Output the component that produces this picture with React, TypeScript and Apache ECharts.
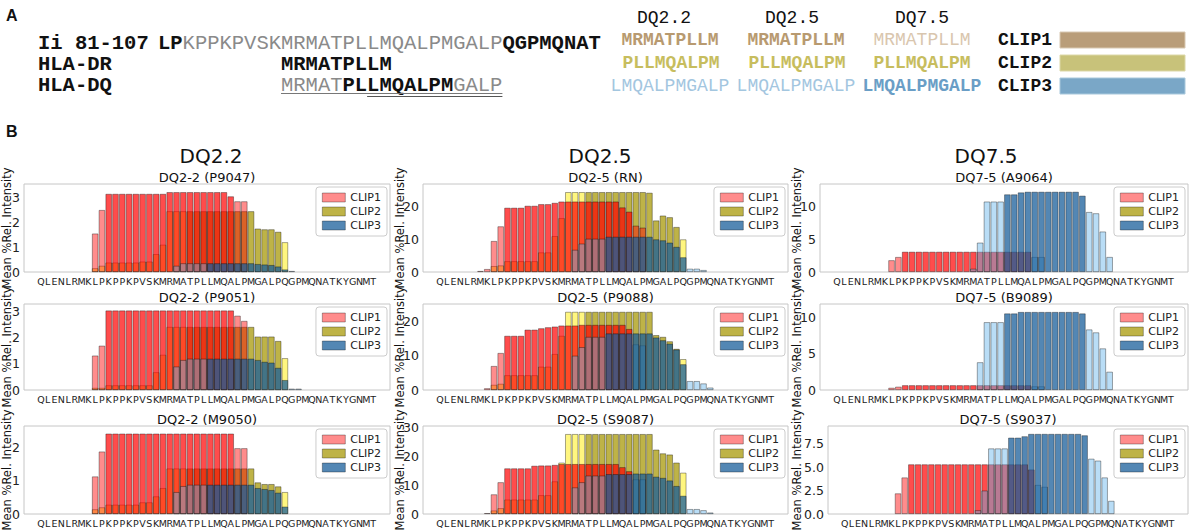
import React, { useEffect, useRef } from "react";
import * as echarts from "echarts";

// ---------- tick labels / categories ----------
const RESIDUES = ["Q","L","E","N","L","R","M","K","L","P","K","P","P","K","P","V","S","K","M","R","M","A","T","P","L","L","M","Q","A","L","P","M","G","A","L","P","Q","G","P","M","Q","N","A","T","K","Y","G","N","M","T"];
const PAD_BEFORE = ["", ""];
const PAD_AFTER = ["", ""];
const CATEGORIES = [...PAD_BEFORE, ...RESIDUES, ...PAD_AFTER];
const OFFSET = PAD_BEFORE.length;

type Seg = [number, number[]]; // [first residue index]

// ---------- DQ2-2 (P9047) ----------
const P9047_CLIP1_FLANK: Seg[] = [[8, [1.55, 2.5]], [29, [2.85, 2.85]]];
const P9047_CLIP1_CORE: Seg[] = [[10, [3.15, 3.15, 3.15, 3.15, 3.15, 3.15, 3.15, 3.15, 3.15, 3.22, 3.22, 3.22, 3.22, 3.22, 3.22, 3.22, 3.22, 3.22, 3.05]]];
const P9047_CLIP2_FLANK: Seg[] = [[8, [0.15, 0.25, 0.38, 0.38, 0.38, 0.38, 0.38, 0.42, 0.42, 0.72, 1.1, 2.45, 2.45, 2.45]], [36, [1.2]]];
const P9047_CLIP2_CORE: Seg[] = [[22, [2.45, 2.45, 2.45, 2.45, 2.45, 2.45, 2.45, 2.45, 2.45, 2.45, 1.75, 1.72, 1.72, 1.62]]];
const P9047_CLIP3_FLANK: Seg[] = [[20, [0.25, 0.35, 0.35, 0.35, 0.35]], [37, [0.04]]];
const P9047_CLIP3_CORE: Seg[] = [[25, [0.35, 0.35, 0.35, 0.35, 0.35, 0.35, 0.35, 0.32, 0.3, 0.28, 0.22, 0.1]]];

// ---------- DQ2-5 (RN) ----------
const RN_CLIP1_FLANK: Seg[] = [[6, [0.3, 0.9, 9.5, 14]], [29, [14.2, 13.6]]];
const RN_CLIP1_CORE: Seg[] = [[10, [19.7, 19.7, 19.7, 20.3, 20.3, 20.8, 20.8, 21.2, 21.6, 21.6, 21.6, 21.6, 21.6, 21.6, 21.6, 21.6, 21.6, 19.8, 18.5]]];
const RN_CLIP2_FLANK: Seg[] = [[8, [1.8, 2.0, 3.3, 3.3, 3.3, 3.3, 3.3, 6.0, 6.0, 11, 16.5, 24.5, 24.5, 24.5]], [36, [10]]];
const RN_CLIP2_CORE: Seg[] = [[22, [24.5, 24.5, 24.5, 24.5, 24.5, 24.5, 24.5, 24.5, 24.5, 24.3, 15.8, 17.3, 16.8, 13.8]]];
const RN_CLIP3_FLANK: Seg[] = [[20, [6.8, 8.7, 10.2, 10.2, 10.2]], [37, [1.0, 1.0, 0.6]]];
const RN_CLIP3_CORE: Seg[] = [[25, [10.8, 10.8, 10.8, 10.8, 10.8, 10.8, 10.8, 10.0, 9.7, 9.0, 7.7, 4.5]]];

// ---------- DQ7-5 (A9064) ----------
const A9064_CLIP1_FLANK: Seg[] = [[8, [1.8, 2.3]]];
const A9064_CLIP1_CORE: Seg[] = [[10, [3.1, 3.1, 3.1, 3.1, 3.1, 3.1, 3.1, 3.1, 3.1, 3.1, 3.1, 3.1, 3.1, 3.1, 3.1, 3.1, 3.1, 3.1, 3.1]]];
const A9064_CLIP2_FLANK: Seg[] = [];
const A9064_CLIP2_CORE: Seg[] = [];
const A9064_CLIP3_FLANK: Seg[] = [[20, [0.5, 4.5, 10.8, 10.8, 10.8]], [29, [2.3, 2.3]], [37, [9.2, 9.0, 6.2, 2.3]]];
const A9064_CLIP3_CORE: Seg[] = [[25, [11.9, 11.9, 12.2, 12.3, 12.3, 12.3, 12.3, 12.3, 12.3, 12.3, 12.3, 11.7]]];

// ---------- DQ2-2 (P9051) ----------
const P9051_CLIP1_FLANK: Seg[] = [[8, [1.32, 1.7]], [29, [2.85, 2.65]]];
const P9051_CLIP1_CORE: Seg[] = [[10, [3.05, 3.05, 3.05, 3.05, 3.05, 3.05, 3.05, 3.05, 3.05, 3.05, 3.05, 3.05, 3.05, 3.05, 3.05, 3.05, 3.05, 3.05, 3.05]]];
const P9051_CLIP2_FLANK: Seg[] = [[8, [0.08, 0.08, 0.18, 0.18, 0.18, 0.18, 0.18, 0.18, 0.18, 0.68, 1.35, 2.42, 2.42, 2.42]], [36, [1.22]]];
const P9051_CLIP2_CORE: Seg[] = [[22, [2.42, 2.42, 2.42, 2.42, 2.42, 2.42, 2.42, 2.42, 2.42, 2.42, 2.05, 2.05, 2.05, 1.88]]];
const P9051_CLIP3_FLANK: Seg[] = [[20, [0.9, 1.15, 1.2, 1.2, 1.2]], [37, [0.05, 0.05]]];
const P9051_CLIP3_CORE: Seg[] = [[25, [1.2, 1.2, 1.2, 1.2, 1.2, 1.2, 1.2, 1.15, 1.08, 1.05, 0.85, 0.38]]];

// ---------- DQ2-5 (P9088) ----------
const P9088_CLIP1_FLANK: Seg[] = [[7, [0.5, 7, 10.8]]];
const P9088_CLIP1_CORE: Seg[] = [[10, [15.8, 15.8, 15.8, 17.6, 17.6, 18.0, 18.3, 18.5, 18.8, 18.8, 18.8, 19, 19, 19, 19, 19, 19, 19, 17.8]]];
const P9088_CLIP2_FLANK: Seg[] = [[8, [1.5, 1.8, 4.3, 4.3, 4.3, 4.3, 4.3, 6.8, 6.8, 10.5, 15.8, 22.8, 22.8, 22.8]], [36, [9]]];
const P9088_CLIP2_CORE: Seg[] = [[22, [22.8, 22.8, 22.8, 22.8, 22.8, 22.8, 22.8, 22.8, 22.8, 22.8, 16.0, 15.5, 14.2, 12.0]]];
const P9088_CLIP3_FLANK: Seg[] = [[20, [10, 12.5, 15.5, 15.5, 15.5]], [29, [13.3, 13.0]], [37, [2.6, 2.6, 1.9, 0.7]]];
const P9088_CLIP3_CORE: Seg[] = [[25, [16.5, 16.5, 16.5, 16.5, 16.5, 16.5, 16.5, 15.3, 14.5, 13.5, 11.8, 7.5]]];

// ---------- DQ7-5 (B9089) ----------
const B9089_CLIP1_FLANK: Seg[] = [[8, [0.3, 0.45]]];
const B9089_CLIP1_CORE: Seg[] = [[10, [0.65, 0.65, 0.65, 0.65, 0.65, 0.65, 0.65, 0.65, 0.65, 0.65, 0.65, 0.65, 0.65, 0.65, 0.65, 0.65, 0.65, 0.65, 0.65]]];
const B9089_CLIP2_FLANK: Seg[] = [];
const B9089_CLIP2_CORE: Seg[] = [];
const B9089_CLIP3_FLANK: Seg[] = [[21, [3.8, 9.3, 9.3, 9.3]], [29, [0.5, 0.5]], [37, [8.3, 7.9, 5.7, 2.5]]];
const B9089_CLIP3_CORE: Seg[] = [[25, [10.5, 10.5, 10.7, 10.7, 10.7, 10.7, 10.7, 10.7, 10.7, 10.7, 10.7, 10.5]]];

// ---------- DQ2-2 (M9050) ----------
const M9050_CLIP1_FLANK: Seg[] = [[8, [1.13, 1.88]], [29, [1.98, 1.98]]];
const M9050_CLIP1_CORE: Seg[] = [[10, [2.42, 2.42, 2.42, 2.42, 2.42, 2.42, 2.42, 2.42, 2.42, 2.42, 2.42, 2.42, 2.42, 2.42, 2.42, 2.42, 2.42, 2.42, 2.42]]];
const M9050_CLIP2_FLANK: Seg[] = [[8, [0.14, 0.2, 0.28, 0.28, 0.28, 0.28, 0.28, 0.35, 0.35, 0.53, 0.78, 1.37, 1.37, 1.37]], [36, [0.66]]];
const M9050_CLIP2_CORE: Seg[] = [[22, [1.37, 1.37, 1.37, 1.37, 1.37, 1.37, 1.37, 1.37, 1.37, 1.37, 0.95, 0.9, 0.9, 0.83]]];
const M9050_CLIP3_FLANK: Seg[] = [[20, [0.66, 0.84, 0.88, 0.88, 0.88]]];
const M9050_CLIP3_CORE: Seg[] = [[25, [0.88, 0.88, 0.88, 0.88, 0.88, 0.88, 0.88, 0.78, 0.75, 0.72, 0.64, 0.22]]];

// ---------- DQ2-5 (S9087) ----------
const S9087_CLIP1_FLANK: Seg[] = [[7, [0.3, 6.8, 11]]];
const S9087_CLIP1_CORE: Seg[] = [[10, [15.8, 15.8, 15.8, 15.8, 16.7, 16.8, 16.8, 17.0, 17.3, 17.3, 17.3, 17.3, 17.3, 17.3, 17.3, 17.3, 17.3, 16.2, 14.8]]];
const S9087_CLIP2_FLANK: Seg[] = [[8, [1.2, 2.0, 5.0, 5.0, 5.0, 5.0, 5.0, 6.5, 6.5, 11.3, 17.8, 27.7, 27.7, 27.7]], [36, [14.3]]];
const S9087_CLIP2_CORE: Seg[] = [[22, [27.7, 27.7, 27.7, 27.7, 27.7, 27.7, 27.7, 27.7, 27.7, 27.7, 22.3, 21.0, 20.6, 17.8]]];
const S9087_CLIP3_FLANK: Seg[] = [[20, [9.2, 11, 13.3, 13.3, 13.3]], [29, [12, 12]], [37, [1.7, 1.7, 1.3, 0.5]]];
const S9087_CLIP3_CORE: Seg[] = [[25, [13.8, 13.8, 13.8, 13.8, 14.0, 14.0, 14.0, 12.9, 12.5, 11.6, 9.7, 6.3]]];

// ---------- DQ7-5 (S9037) ----------
const S9037_CLIP1_FLANK: Seg[] = [[8, [2.2, 3.9]]];
const S9037_CLIP1_CORE: Seg[] = [[10, [5.3, 5.3, 5.3, 5.3, 5.3, 5.3, 5.3, 5.3, 5.3, 5.3, 5.3, 5.3, 5.3, 5.3, 5.3, 5.3, 5.3, 5.3, 4.75]]];
const S9037_CLIP2_FLANK: Seg[] = [];
const S9037_CLIP2_CORE: Seg[] = [];
const S9037_CLIP3_FLANK: Seg[] = [[20, [0.4, 2.5, 7.0, 7.0, 7.0]], [29, [3.1, 2.9]], [37, [5.9, 5.7, 3.9, 1.4]]];
const S9037_CLIP3_CORE: Seg[] = [[25, [8.15, 8.15, 8.3, 8.55, 8.55, 8.55, 8.55, 8.55, 8.55, 8.55, 8.55, 8.4]]];

// ---------- panel descriptions ----------
const PANELS = [
  { title: "DQ2-2 (P9047)", col: 0, row: 0, max: 3.55, step: 1, dec: 0, d: [P9047_CLIP2_FLANK, P9047_CLIP2_CORE, P9047_CLIP1_FLANK, P9047_CLIP1_CORE, P9047_CLIP3_FLANK, P9047_CLIP3_CORE] },
  { title: "DQ2-5 (RN)", col: 1, row: 0, max: 27, step: 10, dec: 0, d: [RN_CLIP2_FLANK, RN_CLIP2_CORE, RN_CLIP1_FLANK, RN_CLIP1_CORE, RN_CLIP3_FLANK, RN_CLIP3_CORE] },
  { title: "DQ7-5 (A9064)", col: 2, row: 0, max: 13.5, step: 5, dec: 0, d: [A9064_CLIP2_FLANK, A9064_CLIP2_CORE, A9064_CLIP1_FLANK, A9064_CLIP1_CORE, A9064_CLIP3_FLANK, A9064_CLIP3_CORE] },
  { title: "DQ2-2 (P9051)", col: 0, row: 1, max: 3.3, step: 1, dec: 0, d: [P9051_CLIP2_FLANK, P9051_CLIP2_CORE, P9051_CLIP1_FLANK, P9051_CLIP1_CORE, P9051_CLIP3_FLANK, P9051_CLIP3_CORE] },
  { title: "DQ2-5 (P9088)", col: 1, row: 1, max: 25.1, step: 10, dec: 0, d: [P9088_CLIP2_FLANK, P9088_CLIP2_CORE, P9088_CLIP1_FLANK, P9088_CLIP1_CORE, P9088_CLIP3_FLANK, P9088_CLIP3_CORE] },
  { title: "DQ7-5 (B9089)", col: 2, row: 1, max: 11.8, step: 5, dec: 0, d: [B9089_CLIP2_FLANK, B9089_CLIP2_CORE, B9089_CLIP1_FLANK, B9089_CLIP1_CORE, B9089_CLIP3_FLANK, B9089_CLIP3_CORE] },
  { title: "DQ2-2 (M9050)", col: 0, row: 2, max: 2.65, step: 1, dec: 0, d: [M9050_CLIP2_FLANK, M9050_CLIP2_CORE, M9050_CLIP1_FLANK, M9050_CLIP1_CORE, M9050_CLIP3_FLANK, M9050_CLIP3_CORE] },
  { title: "DQ2-5 (S9087)", col: 1, row: 2, max: 30.5, step: 10, dec: 0, d: [S9087_CLIP2_FLANK, S9087_CLIP2_CORE, S9087_CLIP1_FLANK, S9087_CLIP1_CORE, S9087_CLIP3_FLANK, S9087_CLIP3_CORE] },
  { title: "DQ7-5 (S9037)", col: 2, row: 2, max: 9.4, step: 2.5, dec: 1, d: [S9037_CLIP2_FLANK, S9037_CLIP2_CORE, S9037_CLIP1_FLANK, S9037_CLIP1_CORE, S9037_CLIP3_FLANK, S9037_CLIP3_CORE] },
];

// series styles, in drawing order: CLIP2 flank, CLIP2 core, CLIP1 flank, CLIP1 core, CLIP3 flank, CLIP3 core
const SERIES_STYLE = [
  { name: "CLIP2 flank", color: "rgba(255,238,0,0.5)" },
  { name: "CLIP2", color: "rgba(165,150,0,0.72)" },
  { name: "CLIP1", color: "rgba(255,0,0,0.45)" },
  { name: "CLIP1 core", color: "rgba(255,0,0,0.7)" },
  { name: "CLIP3 flank", color: "rgba(100,180,235,0.45)" },
  { name: "CLIP3", color: "rgba(25,95,155,0.75)" },
];
const LEGEND_ITEMS = [
  { name: "CLIP1", color: "rgba(255,0,0,0.45)" },
  { name: "CLIP2", color: "rgba(165,150,0,0.72)" },
  { name: "CLIP3", color: "rgba(25,95,155,0.75)" },
];

// layout (pixels)
const COLS = [
  { l: 24, r: 390 },
  { l: 423, r: 788 },
  { l: 820, r: 1188 },
];
const ROWS = [
  { t: 184, b: 272 },
  { t: 304, b: 390 },
  { t: 426, b: 514 },
];
const W = 1192;
const H = 531;
const SANS = "'DejaVu Sans', sans-serif";
const MONO = "'Liberation Mono', 'DejaVu Sans Mono', monospace";

function expand(segs: Seg[]) {
  const out: (number | null)[] = CATEGORIES.map(() => null);
  segs.forEach(([start, vals]) => {
    vals.forEach((v, k) => {
      out[start + k + OFFSET] = v;
    });
  });
  return out;
}

function buildOption() {
  const grid: any[] = [];
  const xAxis: any[] = [];
  const yAxis: any[] = [];
  const series: any[] = [];
  const legend: any[] = [];
  const graphic: any[] = [];

  PANELS.forEach((p, i) => {
    const c = COLS[p.col];
    const r = ROWS[p.row];
    const left = p.col === 2 && p.dec === 1 ? c.l + 8 : c.l;
    grid.push({
      left,
      top: r.t,
      width: c.r - left,
      height: r.b - r.t,
      show: true,
      borderColor: "#c6c6c6",
      borderWidth: 1,
      backgroundColor: "#ffffff",
    });
    xAxis.push({
      type: "category",
      gridIndex: i,
      data: CATEGORIES,
      axisLine: { show: false },
      axisTick: { show: false },
      axisLabel: { interval: 0, fontSize: 9.5, color: "#222", margin: 4, fontFamily: SANS },
    });
    yAxis.push({
      type: "value",
      gridIndex: i,
      min: 0,
      max: p.max,
      interval: p.step,
      splitLine: { show: false },
      axisLine: { show: false },
      axisTick: { show: false },
      axisLabel: {
        fontSize: 12.5,
        color: "#222",
        margin: 4,
        fontFamily: SANS,
        formatter: (v: number) => {
          const k = v / p.step;
          if (Math.abs(k - Math.round(k)) > 1e-6) return "";
          return v.toFixed(p.dec);
        },
      },
    });
    SERIES_STYLE.forEach((s, k) => {
      series.push({
        type: "bar",
        name: s.name,
        xAxisIndex: i,
        yAxisIndex: i,
        data: expand(p.d[k]),
        barGap: "-100%",
        barCategoryGap: "6%",
        itemStyle: { color: s.color, borderColor: "rgba(0,0,0,0.5)", borderWidth: 0.7 },
        emphasis: { disabled: true },
        silent: true,
      });
    });
    legend.push({
      orient: "vertical",
      right: W - c.r + 3,
      top: r.t + 3,
      itemWidth: 23,
      itemHeight: 9,
      itemGap: 3,
      padding: [5, 6, 5, 6],
      borderColor: "#cccccc",
      borderWidth: 1,
      borderRadius: 3,
      backgroundColor: "rgba(255,255,255,0.85)",
      selectedMode: false,
      icon: "rect",
      textStyle: { fontSize: 11, color: "#222", fontFamily: SANS },
      data: LEGEND_ITEMS.map((it) => ({
        name: it.name,
        itemStyle: { color: it.color, borderColor: "rgba(0,0,0,0.45)", borderWidth: 0.7 },
      })),
    });
    // panel title
    graphic.push({
      type: "text",
      x: (left + c.r) / 2,
      y: r.t - 7,
      style: { text: p.title, fontSize: 13, fontFamily: SANS, fill: "#111", align: "center", verticalAlign: "middle" },
    });
    // y axis title
    const yx = [7, 400, 797][p.col];
    graphic.push({
      type: "text",
      x: yx,
      y: (r.t + r.b) / 2,
      rotation: Math.PI / 2,
      style: { text: "Mean %Rel. Intensity", fontSize: 11.5, fontFamily: SANS, fill: "#111", align: "center", verticalAlign: "middle" },
    });
  });

  // ---------- panel labels and column headers ----------
  graphic.push({ type: "text", x: 6, y: 15, style: { text: "A", fontSize: 16, fontWeight: "bold", fontFamily: "'Liberation Sans', Arial, sans-serif", fill: "#111", verticalAlign: "middle" } });
  graphic.push({ type: "text", x: 6, y: 131, style: { text: "B", fontSize: 16, fontWeight: "bold", fontFamily: "'Liberation Sans', Arial, sans-serif", fill: "#111", verticalAlign: "middle" } });
  [["DQ2.2", 211], ["DQ2.5", 600], ["DQ7.5", 986]].forEach(([t, x]) => {
    graphic.push({ type: "text", x, y: 156, style: { text: t, fontSize: 20, fontFamily: SANS, fill: "#111", align: "center", verticalAlign: "middle" } });
  });

  // ---------- panel A : sequences ----------
  const CW = 12.3;
  const FS = 20.5;
  const SX = 158;
  const mono = (text: string, x: number, y: number, bold: boolean, fill: string, size = FS, align = "left") => ({
    type: "text",
    x,
    y,
    style: { text, fontSize: size, fontFamily: MONO, fontWeight: bold ? "bold" : "normal", fill, align, verticalAlign: "middle" },
  });
  graphic.push(mono("Ii 81-107", 38, 43, true, "#111"));
  graphic.push(mono("LP", SX, 43, true, "#111"));
  graphic.push(mono("KPPKPVSKMRMATPLLMQALPMGALP", SX + 2 * CW, 43, false, "#8a8a8a"));
  graphic.push(mono("QGPMQNAT", SX + 28 * CW, 43, true, "#111"));
  graphic.push(mono("HLA-DR", 38, 64, true, "#111"));
  graphic.push(mono("MRMATPLLM", SX + 10 * CW, 64, true, "#111"));
  graphic.push(mono("HLA-DQ", 38, 85, true, "#111"));
  graphic.push(mono("MRMAT", SX + 10 * CW, 85, false, "#8a8a8a"));
  graphic.push(mono("PLLMQALPM", SX + 15 * CW, 85, true, "#111"));
  graphic.push(mono("GALP", SX + 24 * CW, 85, false, "#8a8a8a"));
  graphic.push({ type: "line", shape: { x1: SX + 10 * CW, y1: 93.5, x2: SX + 28 * CW, y2: 93.5 }, style: { stroke: "#777", lineWidth: 1.2 } });
  graphic.push({ type: "line", shape: { x1: SX + 17 * CW, y1: 96.5, x2: SX + 28 * CW, y2: 96.5 }, style: { stroke: "#555", lineWidth: 1.2 } });

  const TAN = "#b89a70";
  const TAN_L = "#d9c6ae";
  const YEL = "#c7bd5e";
  const BLU_L = "#a3c6df";
  const BLU = "#6a9ec6";
  const RS = 18;
  [["DQ2.2", 664], ["DQ2.5", 792], ["DQ7.5", 922]].forEach(([t, x]) => {
    graphic.push(mono(t as string, x as number, 18, false, "#111", RS, "center"));
  });
  graphic.push(mono("MRMATPLLM", 670, 40, true, TAN, RS, "center"));
  graphic.push(mono("PLLMQALPM", 671, 63, true, YEL, RS, "center"));
  graphic.push(mono("LMQALPMGALP", 670, 86, false, BLU_L, RS, "center"));
  graphic.push(mono("MRMATPLLM", 796, 40, true, TAN, RS, "center"));
  graphic.push(mono("PLLMQALPM", 797, 63, true, YEL, RS, "center"));
  graphic.push(mono("LMQALPMGALP", 796, 86, false, BLU_L, RS, "center"));
  graphic.push(mono("MRMATPLLM", 922, 40, false, TAN_L, RS, "center"));
  graphic.push(mono("PLLMQALPM", 922, 63, true, YEL, RS, "center"));
  graphic.push(mono("LMQALPMGALP", 922, 86, true, BLU, RS, "center"));
  graphic.push(mono("CLIP1", 998, 40, true, "#111", RS));
  graphic.push(mono("CLIP2", 998, 63, true, "#111", RS));
  graphic.push(mono("CLIP3", 998, 86, true, "#111", RS));
  graphic.push({ type: "rect", shape: { x: 1060, y: 32, width: 125, height: 16 }, style: { fill: "#b99d79", stroke: "#d8c8b2", lineWidth: 1 } });
  graphic.push({ type: "rect", shape: { x: 1060, y: 55, width: 125, height: 16 }, style: { fill: "#c8c27a", stroke: "#dcd8a8", lineWidth: 1 } });
  graphic.push({ type: "rect", shape: { x: 1060, y: 78, width: 125, height: 16 }, style: { fill: "#7aa7c7", stroke: "#a8c8dc", lineWidth: 1 } });

  return {
    animation: false,
    backgroundColor: "#ffffff",
    grid,
    xAxis,
    yAxis,
    legend,
    series,
    graphic,
  };
}

export default function App() {
  const ref = useRef<HTMLDivElement | null>(null);
  useEffect(() => {
    if (!ref.current) return;
    const chart = echarts.init(ref.current, null, { renderer: "svg" });
    chart.setOption(buildOption() as any);
    return () => chart.dispose();
  }, []);
  return (
    <div
      ref={ref}
      style={{ position: "absolute", left: 0, top: 0, width: W, height: H, background: "#fff" }}
    />
  );
}
